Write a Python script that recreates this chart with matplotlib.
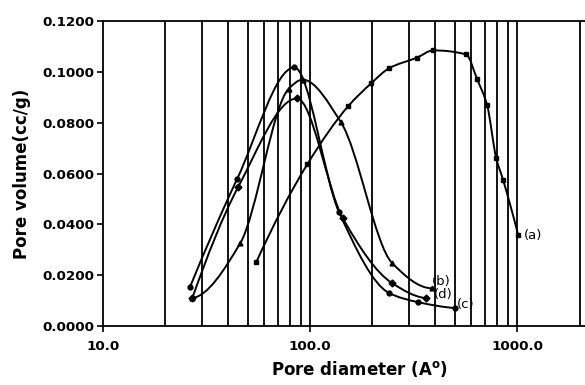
import numpy as np
import matplotlib
matplotlib.use("Agg")
import matplotlib.pyplot as plt
from matplotlib.path import Path
from matplotlib.patches import PathPatch

plt.rcParams['font.family'] = ['DejaVu Sans']

# Pore size distributions (diameter in Angstrom, volume in cc/g)
d_a = [55, 97, 153, 197, 241, 329, 393, 567, 641, 716, 792, 856, 1011]
v_a = [0.0252, 0.0637, 0.0866, 0.0955, 0.1015, 0.1057, 0.1085, 0.1069,
       0.0971, 0.0869, 0.0661, 0.0574, 0.0358]

d_b = [26.9, 46, 79, 92, 141, 249, 386]
v_b = [0.0110, 0.0326, 0.0935, 0.0970, 0.0802, 0.0248, 0.0149]

d_c = [26.3, 44.5, 84, 138, 241, 333, 501]
v_c = [0.0153, 0.0580, 0.1018, 0.0448, 0.0130, 0.0094, 0.0071]

d_d = [27, 45, 86.5, 144, 249, 363]
v_d = [0.0110, 0.0548, 0.0896, 0.0424, 0.0169, 0.0110]

series = [
    ("(a)", d_a, v_a, "s"),
    ("(b)", d_b, v_b, "^"),
    ("(c)", d_c, v_c, "o"),
    ("(d)", d_d, v_d, "D"),
]

grid_lines = [20, 30, 40, 50, 60, 70, 80, 90, 100,
              200, 300, 400, 500, 600, 700, 800, 900, 1000, 2000]


def pchip_slopes(x, y):
    """Shape-preserving (Fritsch-Carlson) tangents at each point."""
    h = np.diff(x)
    delta = np.diff(y) / h
    m = np.zeros_like(y)
    for k in range(1, len(x) - 1):
        if delta[k - 1] * delta[k] > 0:
            w1 = 2 * h[k] + h[k - 1]
            w2 = h[k] + 2 * h[k - 1]
            m[k] = (w1 + w2) / (w1 / delta[k - 1] + w2 / delta[k])
    # one-sided end slopes
    m[0] = ((2 * h[0] + h[1]) * delta[0] - h[0] * delta[1]) / (h[0] + h[1])
    if np.sign(m[0]) != np.sign(delta[0]):
        m[0] = 0
    m[-1] = ((2 * h[-1] + h[-2]) * delta[-1] - h[-1] * delta[-2]) / (h[-1] + h[-2])
    if np.sign(m[-1]) != np.sign(delta[-1]):
        m[-1] = 0
    return m


def smooth_path(xs, ys):
    """Smooth curve through the points as cubic Bezier segments in log-x space."""
    lx = np.log10(np.asarray(xs, float))
    y = np.asarray(ys, float)
    m = pchip_slopes(lx, y)
    verts = [(xs[0], y[0])]
    codes = [Path.MOVETO]
    for i in range(len(lx) - 1):
        h = lx[i + 1] - lx[i]
        c1 = (lx[i] + h / 3, y[i] + m[i] * h / 3)
        c2 = (lx[i + 1] - h / 3, y[i + 1] - m[i + 1] * h / 3)
        verts += [(10 ** c1[0], c1[1]), (10 ** c2[0], c2[1]), (xs[i + 1], y[i + 1])]
        codes += [Path.CURVE4] * 3
    return Path(verts, codes)


fig = plt.figure(figsize=(5.85, 3.85), dpi=100)
ax = fig.add_axes([0.176, 0.153, 0.877, 0.792])
ax.set_xscale("log")
ax.set_xlim(10, 3000)
ax.set_ylim(0, 0.12)

for g in grid_lines:
    ax.axvline(g, color="black", lw=1.3, zorder=1)

for name, xs, ys, mk in series:
    ax.add_patch(PathPatch(smooth_path(xs, ys), facecolor="none",
                           edgecolor="black", lw=1.4, zorder=3))
    ax.plot(xs, ys, linestyle="none", marker=mk, color="black",
            markersize=3.5, zorder=4)

ax.annotate("(a)", (d_a[-1], v_a[-1]), xytext=(4, -3), textcoords="offset points",
            fontsize=9.5)
ax.annotate("(b)", (d_b[-1], v_b[-1]), xytext=(0, 2), textcoords="offset points",
            fontsize=9.5)
ax.annotate("(d)", (d_d[-1], v_d[-1]), xytext=(6, 0), textcoords="offset points",
            fontsize=9.5)
ax.annotate("(c)", (d_c[-1], v_c[-1]), xytext=(1, 0), textcoords="offset points",
            fontsize=9.5)

ax.set_xticks([10, 100, 1000])
ax.set_xticklabels(["10.0", "100.0", "1000.0"])
ax.xaxis.set_minor_locator(matplotlib.ticker.NullLocator())
ax.set_yticks(np.arange(0, 0.1201, 0.02))
ax.set_yticklabels([f"{t:.4f}" for t in np.arange(0, 0.1201, 0.02)])
ax.tick_params(axis="both", direction="out", length=4, width=1.2, labelsize=9.7)
ax.tick_params(axis="x", pad=6)
ax.tick_params(axis="y", pad=2)
for lab in ax.get_xticklabels() + ax.get_yticklabels():
    lab.set_fontweight("bold")

for s in ["left", "bottom", "top"]:
    ax.spines[s].set_linewidth(1.3)
ax.spines["right"].set_visible(False)

ax.set_xlabel("Pore diameter (A$^\\mathregular{o}$)", fontsize=12, fontweight="bold",
              labelpad=4)
ax.set_ylabel("Pore volume(cc/g)", fontsize=12, fontweight="bold", labelpad=8)

fig.savefig("out.png", dpi=100)
